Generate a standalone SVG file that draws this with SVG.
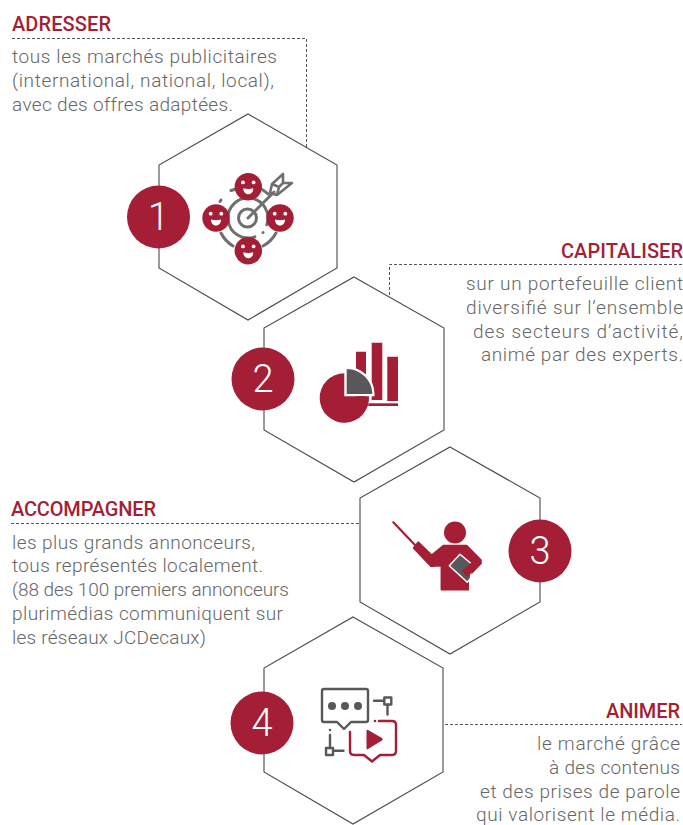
<svg xmlns="http://www.w3.org/2000/svg" width="683" height="825" viewBox="0 0 683 825">
<style>
.hex{fill:#fff;stroke:#4a4a4a;stroke-width:1.1}
.num{fill:#a41f35}
.n{font-family:"Roboto","Liberation Sans",sans-serif;font-weight:300;font-size:38px;fill:#fff;text-anchor:middle}
.h{font-family:"Roboto","Liberation Sans",sans-serif;font-weight:500;font-size:20px;fill:#a41f35}
.b{font-family:"Roboto","Liberation Sans",sans-serif;font-weight:300;font-size:19px;fill:#666}
.e{text-anchor:end}
.dash{fill:none;stroke:#555;stroke-width:1;stroke-dasharray:3 2}
.g{fill:none;stroke:#706f6f;stroke-width:3;stroke-linecap:round;stroke-linejoin:round}
.d{fill:none;stroke:#58585a;stroke-width:2.400;stroke-linejoin:round;stroke-linecap:round}
.r{fill:none;stroke:#a41f35;stroke-width:2.400;stroke-linejoin:round;stroke-linecap:round}
.wf{fill:#fff}
</style>
<defs>
<g id="face"><circle r="13.700" fill="#a41f35"/><circle cx="-5.300" cy="-4.300" r="1.900" class="wf"/><circle cx="5.300" cy="-4.300" r="1.900" class="wf"/><path d="M-5 1.500Q0 3 5 1.500C5 5 3 7.500 0 7.500S-5 5-5 1.500Z" class="wf"/></g>
</defs>
<g id="connectors">
<path class="dash" d="M12 38.500H306.500V150"/>
<path class="dash" d="M682 264.500H389.500V296"/>
<path class="dash" d="M11 523.500H360"/>
<path class="dash" d="M445 724.500H682"/>
</g>
<g id="node1">
<polygon class="hex" points="248,114 337,165 337,268 248,320 159,268 159,165"/>
<circle class="num" cx="158.500" cy="217" r="31.500"/>
<text class="n" x="158.500" y="230">1</text>
<g class="g">
<path d="M231 190.500L236 189M220 201.500L221 200M221 233A32 32 0 0 0 233 246M276 233A32 32 0 0 1 263 246M262 189.500A32 32 0 0 1 268 194"/>
<path d="M254.800 236.800A20 20 0 1 1 266.800 224.800"/>
<circle cx="247.500" cy="218" r="9"/>
<path d="M248 218L274 192"/>
<path d="M263 232.500V232.600"/>
<path d="M283 174L272 184L270 193L277 195L292 183L283 183L283 174M272 184L279 187L283 183M277 195L279 187" stroke-width="2.600"/>
</g>
<use href="#face" x="248.300" y="186.700"/>
<use href="#face" x="216" y="218"/>
<use href="#face" x="280" y="218"/>
<use href="#face" x="248.300" y="250.700"/>
<text class="h" x="12" y="31" textLength="99">ADRESSER</text>
<text class="b" x="12" y="63.300" textLength="265">tous les marchés publicitaires</text>
<text class="b" x="12" y="87.300" textLength="262">(international, national, local),</text>
<text class="b" x="12" y="111" textLength="221">avec des offres adaptées.</text>
</g>
<g id="node2">
<polygon class="hex" points="354,277 444,328 444,430 354,482 264,430 264,328"/>
<circle class="num" cx="263" cy="379" r="31.500"/>
<text class="n" x="263" y="392">2</text>
<path class="num" d="M356 351.700h10v46h-10zM371.700 342.700h10.600v57.300h-10.600zM387.300 356.700h10.700v44.300h-10.700z"/>
<rect class="num" x="368.300" y="403.300" width="29.700" height="2.700"/>
<path d="M346.700 369V394H372.300C372.300 380 360 369 346.700 369Z" fill="#fff" stroke="#fff" stroke-width="4.500"/>
<path class="num" d="M344.300 373.300A24.700 24.700 0 1 0 369 396.300H344.300Z"/>
<path d="M346.700 369V394H372.300C372.300 380 360 369 346.700 369Z" fill="#58585a"/>
<text class="h e" x="683" y="257.700" textLength="122">CAPITALISER</text>
<text class="b e" x="683" y="290" textLength="217">sur un portefeuille client</text>
<text class="b e" x="683" y="314" textLength="217">diversifié sur l’ensemble</text>
<text class="b e" x="683" y="337.700" textLength="210">des secteurs d’activité,</text>
<text class="b e" x="683" y="361" textLength="202">animé par des experts.</text>
</g>
<g id="node3">
<polygon class="hex" points="450,447 540,498 540,602 450,654 360,602 360,498"/>
<circle class="num" cx="540" cy="551" r="31.500"/>
<text class="n" x="540" y="564">3</text>
<circle class="num" cx="455" cy="532.500" r="11"/>
<path class="num" stroke="#a41f35" stroke-width="1.500" stroke-linejoin="round" d="M418.300 542L431.700 555L443.300 545.500H466.700L481 560V563.500L468 577L441.300 589.500V566L435.500 566L431 566.500L413.500 548Z"/>
<rect class="num" x="441" y="565" width="28" height="25.500"/>
<path d="M393.300 522.300L415 545" stroke="#a41f35" stroke-width="2.200" stroke-linecap="round"/>
<path d="M460 554.300L449.300 565.700L467.300 582.300L470.700 578V563.300Z" fill="#58585a" stroke="#fff" stroke-width="1.500" stroke-linejoin="round"/>
<path class="num" d="M472 562L462 570.700L467.300 577.300L480.500 563.300Z"/>
<text class="h" x="11" y="516" textLength="145">ACCOMPAGNER</text>
<text class="b" x="12" y="548.500" textLength="243">les plus grands annonceurs,</text>
<text class="b" x="12" y="572" textLength="251">tous représentés localement.</text>
<text class="b" x="12" y="596" textLength="277">(88 des 100 premiers annonceurs</text>
<text class="b" x="12" y="620" textLength="271">plurimédias communiquent sur</text>
<text class="b" x="12" y="643.500" textLength="194">les réseaux JCDecaux)</text>
</g>
<g id="node4">
<polygon class="hex" points="353,617 443,668 443,772 353,824 264,772 264,668"/>
<circle class="num" cx="262" cy="723" r="31.500"/>
<text class="n" x="262" y="736">4</text>
<path class="d" d="M324 689H366Q368 689 368 691V720Q368 722 366 722H351L344 729L337 722H324Q322 722 322 720V691Q322 689 324 689Z"/>
<circle cx="332" cy="706" r="4" fill="#58585a"/><circle cx="345" cy="706" r="4" fill="#58585a"/><circle cx="358" cy="706" r="4" fill="#58585a"/>
<path class="d" d="M374 700.700H384M387.500 705V714.500M330 735V748M333.500 750.700H343.500"/>
<rect class="d" x="384.300" y="697.500" width="7" height="7" stroke-width="2"/>
<rect class="d" x="326" y="748" width="7" height="7" stroke-width="2"/>
<circle cx="330" cy="730" r="1.300" fill="#58585a"/>
<path class="r" d="M350 732V751Q350 755 354 755H364L372 761.500L380 755H392Q396 755 396 751V725Q396 721 392 721H379"/>
<circle cx="375" cy="721" r="1.300" fill="#a41f35"/>
<path class="num" d="M368 730L382 738Q383.500 739.300 382 740.500L368 749Q366.500 750 366.500 748V731Q366.500 729 368 730Z"/>
<text class="h e" x="680" y="717.700" textLength="74">ANIMER</text>
<text class="b e" x="680" y="750" textLength="143">le marché grâce</text>
<text class="b e" x="680" y="774" textLength="131">à des contenus</text>
<text class="b e" x="680" y="797.700" textLength="200">et des prises de parole</text>
<text class="b e" x="680" y="820.500" textLength="204">qui valorisent le média.</text>
</g>
</svg>
